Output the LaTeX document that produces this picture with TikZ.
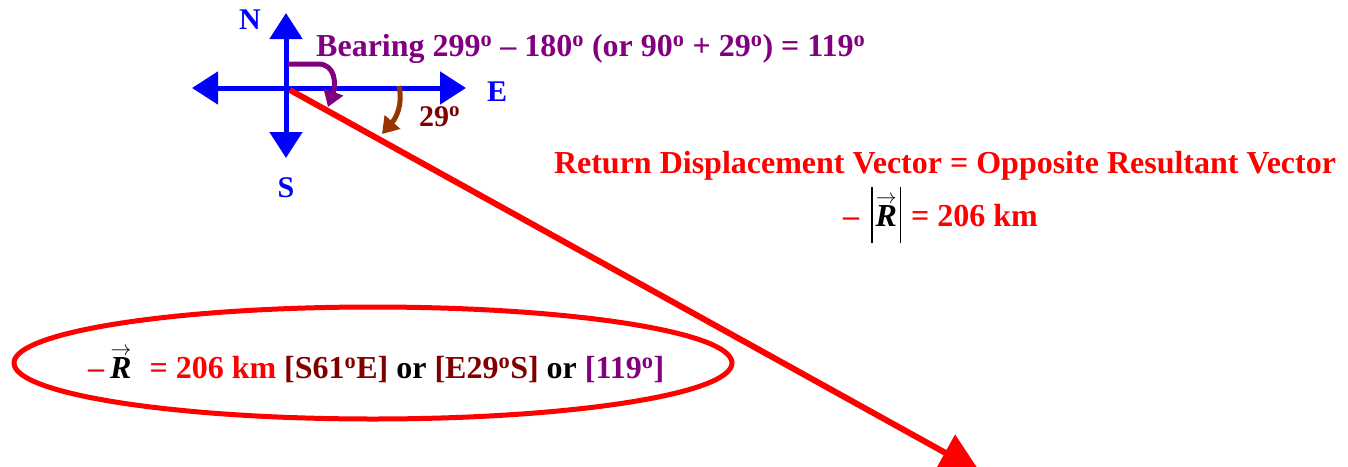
\documentclass[tikz,border=0pt]{standalone}
\usepackage{fontspec}
\setmainfont{Liberation Serif}
\usetikzlibrary{arrows.meta,shapes.geometric}
\definecolor{cblue}{RGB}{0,0,255}
\definecolor{cpurple}{RGB}{128,0,128}
\definecolor{cdred}{RGB}{128,0,0}
\definecolor{cbrown}{RGB}{153,51,0}
\definecolor{cred}{RGB}{255,0,0}
\newcommand{\dg}{\textsuperscript{o}}
\newcommand{\vR}{\textcolor{black}{$\stackrel{\rightarrow}{\mbox{\textit{R}}}$}}
\newcommand{\vbar}{\textcolor{black}{\rule[-17pt]{1.3pt}{56pt}}}
\tikzset{
  compass/.style={cblue,line width=5pt,-{Triangle[length=26pt,width=32pt]}},
  lbl/.style={font=\bfseries\fontsize{30}{32}\selectfont,inner sep=0pt},
  bigtxt/.style={font=\bfseries\fontsize{32}{34}\selectfont,inner sep=0pt},
  curv/.style={line width=5pt,-{Triangle[length=16pt,width=20pt]}}
}
\begin{document}
\begin{tikzpicture}[x=1pt,y=-1pt]
\useasboundingbox (0,0) rectangle (1348,466);
\coordinate (O) at (286,88);
\coordinate (Nt) at (286,13);
\coordinate (St) at (286,158);
\coordinate (Wt) at (192,88);
\coordinate (Et) at (466,88);
\draw[compass] (O) -- (Nt);
\draw[compass] (O) -- (St);
\draw[compass] (O) -- (Wt);
\draw[compass] (O) -- (Et);
\node[lbl,cblue] (N) at (250,20) {N};
\node[lbl,cblue] (E) at (497,92) {E};
\node[lbl,cblue] (S) at (286,188) {S};
% red resultant
\coordinate (Rs) at (290,90);
\coordinate (Re) at (980,472);
\draw[cred,line width=6pt,-{Triangle[length=40pt,width=40pt]}] (Rs) -- (Re);
% purple bearing arc
\coordinate (P0) at (288,64);
\coordinate (P1) at (318,64);
\coordinate (P2) at (328,107);
\draw[cpurple,curv] (P0) -- (P1) .. controls (336,64) and (336,85) .. (P2);
% brown 29 arc
\coordinate (B0) at (399,86);
\coordinate (B1) at (382,134);
\draw[cbrown,curv] (B0) .. controls (403,105) and (396,118) .. (B1);
\node[lbl,cdred,anchor=base west] (a29) at (419,126) {29\dg};
\node[bigtxt,cpurple,anchor=base west] (bear) at (316,56) {Bearing 299\dg{} -- 180\dg{} (or 90\dg{} + 29\dg) = 119\dg};
\node[bigtxt,cred,anchor=base] (ret) at (945,173) {Return Displacement Vector = Opposite Resultant Vector};
\node[bigtxt,cred,anchor=base west] (mag) at (843,226) {--\hspace{12pt}\vbar\hspace{3pt}\vR\hspace{3pt}\vbar\hspace{10pt}= 206 km};
\node[draw=cred,line width=5pt,ellipse,minimum width=718pt,minimum height=112pt] (ell) at (373,363) {};
\node[bigtxt,anchor=base west] (ans) at (88,378) {\textcolor{cred}{--}\hspace{6pt}\vR\hspace{18pt}\textcolor{cred}{= 206 km} \textcolor{cdred}{[S61\dg E]} or \textcolor{cdred}{[E29\dg S]} or \textcolor{cpurple}{[119\dg]}};
\end{tikzpicture}
\end{document}
